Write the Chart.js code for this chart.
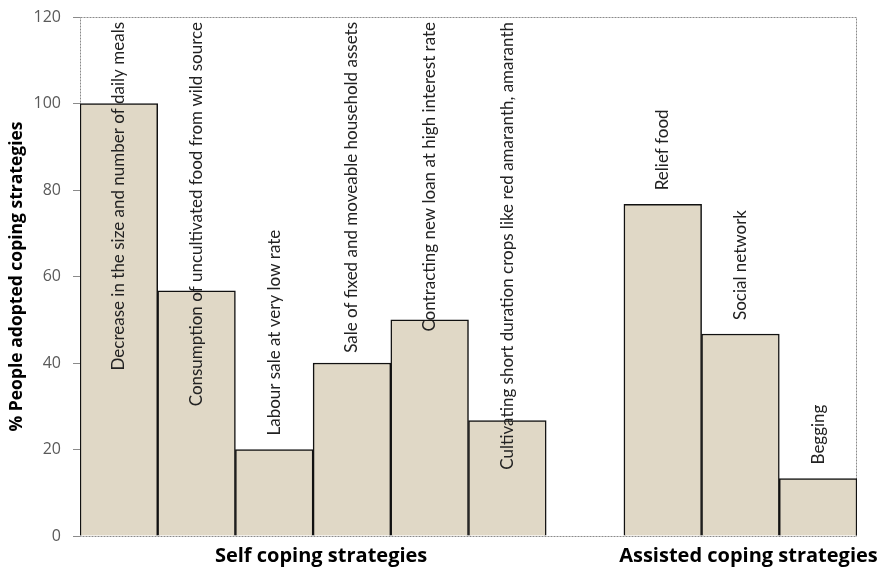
<!DOCTYPE html>
<html>
<head>
<meta charset="utf-8">
<script src="https://cdn.jsdelivr.net/npm/chart.js@4.4.1/dist/chart.umd.min.js"></script>
<style>
  html, body { margin: 0; padding: 0; background: #fff; }
  #wrap { width: 889px; height: 573px; position: relative; }
</style>
</head>
<body>
<div id="wrap"><canvas id="myChart" width="889" height="573"></canvas></div>
<script>
// data (empty slot separates the two groups)
const strategies = [
  'Decrease in the size and number of daily meals',
  'Consumption of uncultivated food from wild source',
  'Labour sale at very low rate',
  'Sale of fixed and moveable household assets',
  'Contracting new loan at high interest rate',
  'Cultivating short duration crops like red amaranth, amaranth',
  '',
  'Relief food',
  'Social network',
  'Begging'
];
const adopted = [100, 56.7, 20, 40, 50, 26.7, null, 76.7, 46.7, 13.3];
const groupNames = ['Self coping strategies', 'Assisted coping strategies'];
const groupStart = [0, 7];
const groupEnd = [5, 9];
const yTicks = [0, 20, 40, 60, 80, 100, 120];

const barFill = '#e0d8c6';
const labelFont = '17px Lato, "Open Sans", sans-serif';

// labels standing upright above (or inside) each bar
const barLabels = {
  id: 'barLabels',
  afterDatasetsDraw(chart) {
    const ctx = chart.ctx;
    const area = chart.chartArea;
    const meta = chart.getDatasetMeta(0);
    ctx.save();
    ctx.font = labelFont;
    ctx.fillStyle = '#222';
    ctx.textBaseline = 'middle';
    ctx.textAlign = 'left';
    meta.data.forEach((bar, i) => {
      const txt = strategies[i];
      if (!txt || adopted[i] == null) return;
      const w = ctx.measureText(txt).width;
      let start = bar.y - 14;
      if (start - w < area.top + 4) start = area.top + 5 + w;
      ctx.save();
      ctx.translate(bar.x, start);
      ctx.rotate(-Math.PI / 2);
      ctx.fillText(txt, 0, 0);
      ctx.restore();
    });
    ctx.restore();
  }
};

// dotted frame round the plot and the group titles under it
const frameAndGroups = {
  id: 'frameAndGroups',
  beforeDatasetsDraw(chart) {
    const ctx = chart.ctx;
    const a = chart.chartArea;
    ctx.save();
    ctx.strokeStyle = '#8a8a8a';
    ctx.lineWidth = 1;
    ctx.setLineDash([2, 1]);
    ctx.strokeRect(a.left + 0.5, a.top + 0.5, a.right - a.left - 1, a.bottom - a.top);
    ctx.setLineDash([]);
    ctx.restore();
  },
  afterDraw(chart) {
    const ctx = chart.ctx;
    const x = chart.scales.x;
    const half = (x.getPixelForValue(1) - x.getPixelForValue(0)) / 2;
    ctx.save();
    ctx.font = 'bold 20px "Open Sans", Lato, sans-serif';
    ctx.fillStyle = '#000';
    ctx.textAlign = 'center';
    ctx.textBaseline = 'middle';
    groupNames.forEach((name, g) => {
      const left = x.getPixelForValue(groupStart[g]) - half;
      const right = x.getPixelForValue(groupEnd[g]) + half;
      ctx.fillText(name, (left + right) / 2 + 8, chart.chartArea.bottom + 20);
    });
    ctx.restore();
  }
};

const ctx = document.getElementById('myChart').getContext('2d');
new Chart(ctx, {
  type: 'bar',
  data: {
    labels: strategies,
    datasets: [{
      data: adopted,
      backgroundColor: barFill,
      borderColor: '#111',
      borderWidth: 1.5,
      borderSkipped: 'bottom',
      categoryPercentage: 1,
      barPercentage: 1
    }]
  },
  options: {
    responsive: false,
    animation: false,
    layout: { padding: { top: 17, right: 32, left: 0, bottom: 0 } },
    plugins: {
      legend: { display: false },
      tooltip: { enabled: false }
    },
    scales: {
      x: {
        grid: { display: false },
        border: { display: false },
        ticks: { display: false },
        afterFit: (s) => { s.height = 37; }
      },
      y: {
        min: 0,
        max: 120,
        afterBuildTicks: (s) => { s.ticks = yTicks.map(v => ({ value: v })); },
        afterFit: (s) => { s.width = 80; s.paddingTop = 0; s.paddingBottom = 0; },
        grid: {
          display: true,
          drawOnChartArea: false,
          drawTicks: true,
          tickLength: 7,
          color: '#8a8a8a'
        },
        border: { display: false },
        ticks: {
          padding: 12,
          color: '#5a5a5a',
          font: { family: '"Open Sans", Lato, sans-serif', size: 16 }
        },
        title: {
          display: true,
          text: '% People adopted coping strategies',
          color: '#000',
          padding: { top: 7, bottom: 0 },
          font: { family: '"Open Sans", Lato, sans-serif', size: 17.5, weight: 'bold' }
        }
      }
    }
  },
  plugins: [barLabels, frameAndGroups]
});
</script>
</body>
</html>
